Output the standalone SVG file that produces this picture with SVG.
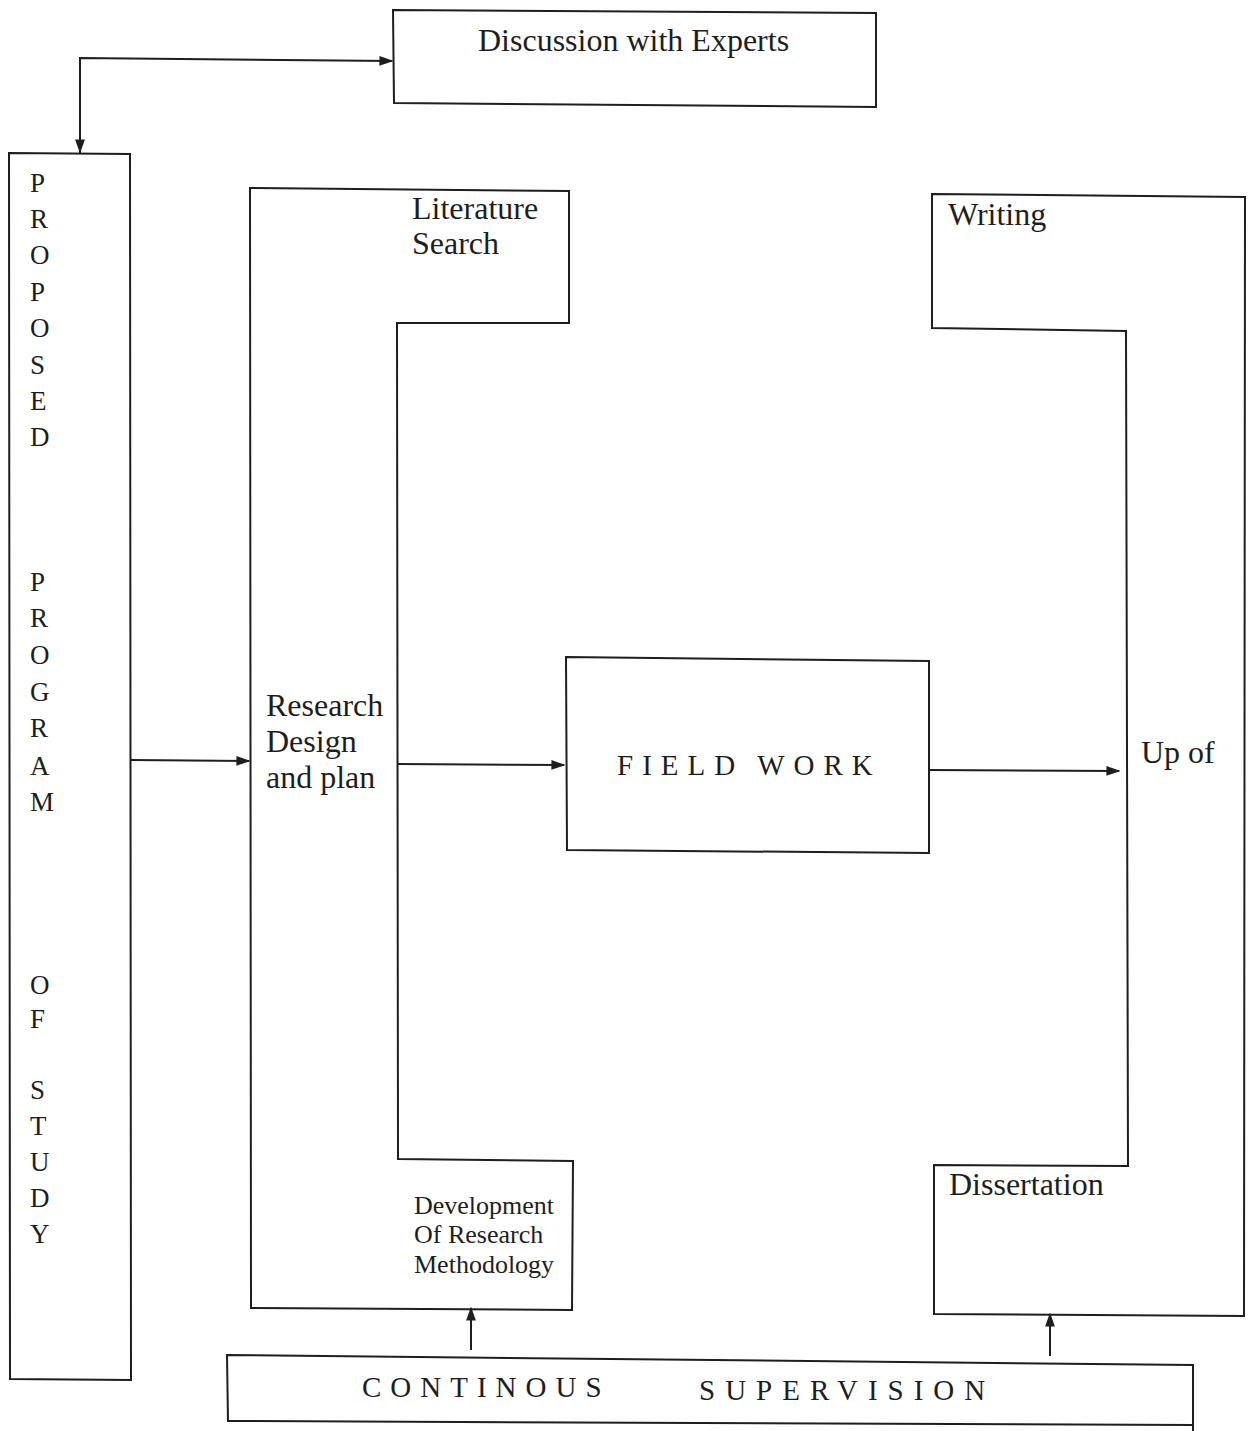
<svg xmlns="http://www.w3.org/2000/svg" width="1253" height="1431" viewBox="0 0 1253 1431">
  <style>
    .box { fill: none; stroke: #1e1e1e; stroke-width: 2; stroke-linejoin: miter; }
    .wire { fill: none; stroke: #1e1e1e; stroke-width: 2; }
    .t { font-family: "Liberation Serif", "Times New Roman", serif; fill: #1e1e1e; }
    .lbl { font-size: 32px; }
    .vert { font-size: 27px; }
    .small { font-size: 26px; }
    .caps { font-size: 29px; letter-spacing: 9px; }
  </style>
  <defs>
    <marker id="head" viewBox="0 0 10 10" refX="9" refY="5" markerWidth="7" markerHeight="7" markerUnits="strokeWidth" orient="auto">
      <path d="M0,1.5 L10,5 L0,8.5 Z" fill="#1e1e1e"/>
    </marker>
  </defs>

  <!-- Discussion with Experts -->
  <g id="node-discussion">
    <polygon class="box" points="393,10 876,13 876,107 394,103"/>
    <text class="t lbl" x="478" y="51">Discussion with Experts</text>
  </g>

  <!-- Proposed program of study (vertical lettering) -->
  <g id="node-proposed">
    <polygon class="box" points="9,153 130,154 131,1380 10,1379"/>
    <g class="t vert">
      <text x="30" y="192">P</text>
      <text x="30" y="228">R</text>
      <text x="30" y="264">O</text>
      <text x="30" y="301">P</text>
      <text x="30" y="337">O</text>
      <text x="30" y="374">S</text>
      <text x="30" y="410">E</text>
      <text x="30" y="446">D</text>
      <text x="30" y="591">P</text>
      <text x="30" y="627">R</text>
      <text x="30" y="664">O</text>
      <text x="30" y="701">G</text>
      <text x="30" y="737">R</text>
      <text x="30" y="775">A</text>
      <text x="30" y="811">M</text>
      <text x="30" y="994">O</text>
      <text x="30" y="1028">F</text>
      <text x="30" y="1099">S</text>
      <text x="30" y="1135">T</text>
      <text x="30" y="1171">U</text>
      <text x="30" y="1207">D</text>
      <text x="30" y="1243">Y</text>
    </g>
  </g>

  <!-- Research design bracket: literature search / methodology -->
  <g id="node-research">
    <polygon class="box" points="250,188 569,191 569,323 397,323 398,1159 573,1161 572,1310 251,1308"/>
    <text class="t lbl" x="412" y="219">Literature</text>
    <text class="t lbl" x="412" y="254">Search</text>
    <text class="t lbl" x="266" y="716">Research</text>
    <text class="t lbl" x="266" y="752">Design</text>
    <text class="t lbl" x="266" y="788">and plan</text>
    <text class="t small" x="414" y="1214">Development</text>
    <text class="t small" x="414" y="1243">Of Research</text>
    <text class="t small" x="414" y="1273">Methodology</text>
  </g>

  <!-- Field work -->
  <g id="node-fieldwork">
    <polygon class="box" points="566,657 929,661 929,853 567,850"/>
    <text class="t caps" x="617" y="775">FIELD<tspan dx="13">WORK</tspan></text>
  </g>

  <!-- Writing up of dissertation bracket -->
  <g id="node-writing">
    <polygon class="box" points="932,194 1245,197 1244,1316 934,1314 934,1165 1128,1166 1126,331 932,328"/>
    <text class="t lbl" x="948" y="225">Writing</text>
    <text class="t lbl" x="1141" y="763">Up of</text>
    <text class="t lbl" x="949" y="1195">Dissertation</text>
  </g>

  <!-- Continuous supervision -->
  <g id="node-supervision">
    <polygon class="box" points="227,1355 1193,1365 1193,1431 1193,1425 228,1421"/>
    <text class="t caps" x="362" y="1397">CONTINOUS</text>
    <text class="t caps" x="699" y="1400" style="letter-spacing:10px">SUPERVISION</text>
  </g>

  <!-- Connectors -->
  <g id="connectors">
    <path class="wire" d="M80,153 L80,58 L392,61" marker-end="url(#head)"/>
    <path class="wire" d="M80,70 L80,152" marker-end="url(#head)"/>
    <path class="wire" d="M131,760 L249,761" marker-end="url(#head)"/>
    <path class="wire" d="M398,764 L564,765" marker-end="url(#head)"/>
    <path class="wire" d="M929,770 L1119,771" marker-end="url(#head)"/>
    <path class="wire" d="M471,1350 L471,1308" marker-end="url(#head)"/>
    <path class="wire" d="M1050,1356 L1050,1314" marker-end="url(#head)"/>
  </g>
</svg>
